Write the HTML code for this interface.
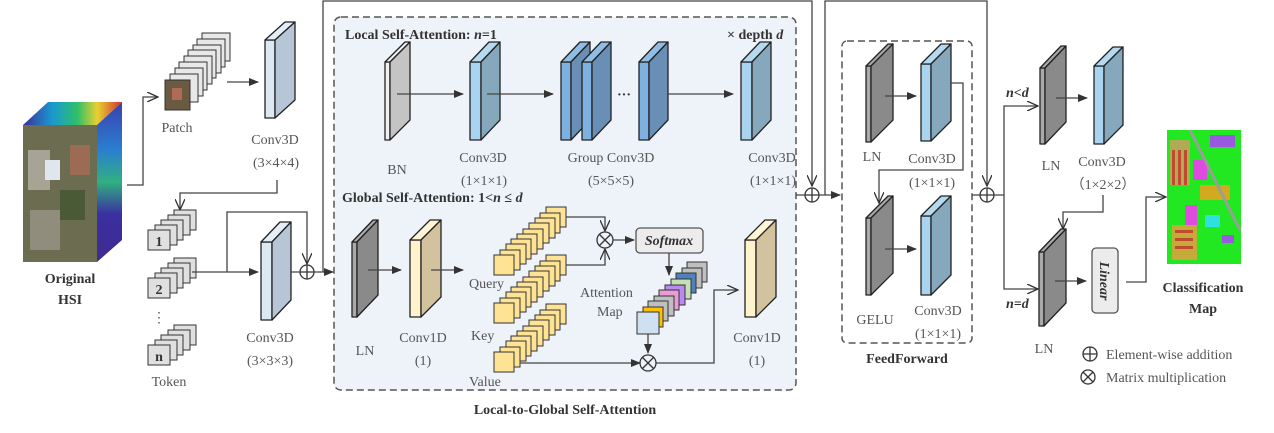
<!DOCTYPE html>
<html><head><meta charset="utf-8"><style>
html,body{margin:0;padding:0;background:#fff}
svg{display:block}
text{font-family:"Liberation Serif",serif;fill:#555;font-size:14px}
.b{font-weight:bold;fill:#333}
.ln{stroke:#444;stroke-width:1.3;fill:none}
.sl{stroke:#222;stroke-width:1.3;stroke-linejoin:round}
</style></head><body>
<svg width="1274" height="433" viewBox="0 0 1274 433" xmlns="http://www.w3.org/2000/svg">
<defs>
<marker id="a" markerWidth="10" markerHeight="8" refX="9" refY="4" orient="auto" markerUnits="userSpaceOnUse"><path d="M0,0 L10,4 L0,8 Z" fill="#333"/></marker>
<marker id="o" markerWidth="12" markerHeight="10" refX="11" refY="5" orient="auto" markerUnits="userSpaceOnUse"><path d="M0,0 L11,5 L0,10" fill="none" stroke="#333" stroke-width="1.3"/></marker>
<linearGradient id="hsiTop" x1="0" x2="1"><stop offset="0" stop-color="#3b2f9a"/><stop offset=".3" stop-color="#1a9ad0"/><stop offset=".55" stop-color="#2fbf6a"/><stop offset=".75" stop-color="#e8d030"/><stop offset="1" stop-color="#d03030"/></linearGradient>
<linearGradient id="hsiSide" x1="0" y1="0" x2="0" y2="1"><stop offset="0" stop-color="#3a40b0"/><stop offset=".3" stop-color="#2a7fd0"/><stop offset=".5" stop-color="#30b080"/><stop offset=".7" stop-color="#3a30a0"/><stop offset="1" stop-color="#402a90"/></linearGradient>
<g id="qs">
<rect x="546" y="207" width="20" height="20"/><rect x="540" y="213" width="20" height="20"/><rect x="535" y="218" width="20" height="20"/><rect x="529" y="223" width="20" height="20"/><rect x="523" y="229" width="20" height="20"/><rect x="517" y="234" width="20" height="20"/><rect x="511" y="239" width="20" height="20"/><rect x="506" y="244" width="20" height="20"/><rect x="500" y="250" width="20" height="20"/><rect x="494" y="255" width="20" height="20"/>
</g>
<g id="tk">
<rect x="174" y="210" width="22" height="20"/><rect x="168" y="215" width="22" height="20"/><rect x="161" y="220" width="22" height="20"/><rect x="155" y="225" width="22" height="20"/><rect x="148" y="230" width="22" height="20"/>
</g>
</defs>

<!-- Original HSI -->
<polygon points="23,125 48,102 122,102 97,125" fill="url(#hsiTop)"/>
<polygon points="97,125 122,102 122,240 97,262" fill="url(#hsiSide)"/>
<rect x="23" y="125" width="74" height="137" fill="#7a7058"/>
<rect x="23" y="125" width="74" height="137" fill="#5d6a48" opacity=".5"/>
<rect x="28" y="150" width="22" height="40" fill="#b8b2a6" opacity=".8"/>
<rect x="45" y="160" width="15" height="20" fill="#dfe6ee"/>
<rect x="70" y="145" width="20" height="30" fill="#a86a55" opacity=".8"/>
<rect x="30" y="210" width="30" height="40" fill="#9a9588" opacity=".8"/>
<rect x="60" y="190" width="25" height="30" fill="#4b5a36"/>
<text x="70" y="283" class="b" text-anchor="middle" font-size="15">Original</text>
<text x="70" y="304" class="b" text-anchor="middle" font-size="15">HSI</text>

<path class="ln" d="M127,185 H143 V97 H158" marker-end="url(#o)"/>
<!-- Patch stack -->
<g fill="#e8e8e8" stroke="#333" stroke-width="1">
<rect x="202" y="33" width="28" height="28"/><rect x="197" y="39" width="28" height="28"/><rect x="193" y="45" width="28" height="28"/><rect x="188" y="50" width="28" height="28"/><rect x="184" y="56" width="28" height="28"/><rect x="179" y="62" width="28" height="28"/><rect x="175" y="68" width="28" height="28"/><rect x="170" y="74" width="28" height="28"/>
</g>
<rect x="165" y="80" width="25" height="30" fill="#6a5a40" stroke="#333"/>
<rect x="172" y="88" width="10" height="12" fill="#b06a55"/>
<text x="177" y="132" text-anchor="middle">Patch</text>
<path class="ln" d="M227,82 H258" marker-end="url(#a)"/>

<!-- Conv3D 3x4x4 -->
<g class="sl"><rect x="265" y="40" width="10" height="78" fill="#dce8f2"/><polygon points="265,40 285,22 295,22 275,40" fill="#e4eef8"/><polygon points="275,40 295,22 295,100 275,118" fill="#b7c6d6"/></g>
<text x="275" y="144" text-anchor="middle">Conv3D</text>
<text x="276" y="167" text-anchor="middle">(3×4×4)</text>
<path class="ln" d="M277,180 V193 H180 V210" marker-end="url(#o)"/>

<!-- Tokens -->
<g fill="#e0e0e0" stroke="#333" stroke-width="1">
<use href="#tk"/><use href="#tk" y="48"/><use href="#tk" y="115"/>
</g>
<text x="159" y="246" text-anchor="middle" class="b" font-size="12">1</text>
<text x="159" y="294" text-anchor="middle" class="b" font-size="12">2</text>
<text x="159" y="361" text-anchor="middle" class="b" font-size="12">n</text>
<text x="159" y="322" text-anchor="middle" font-size="12">⋮</text>
<text x="169" y="386" text-anchor="middle">Token</text>

<path class="ln" d="M192,272 H258" marker-end="url(#a)"/>
<path class="ln" d="M227,272 V212 H307 V264" marker-end="url(#o)"/>
<g class="sl"><rect x="261" y="242" width="11" height="78" fill="#dce8f2"/><polygon points="261,242 280,222 291,222 272,242" fill="#e4eef8"/><polygon points="272,242 291,222 291,300 272,320" fill="#b7c6d6"/></g>
<text x="270" y="342" text-anchor="middle">Conv3D</text>
<text x="270" y="365" text-anchor="middle">(3×3×3)</text>
<circle cx="307" cy="272" r="7" fill="none" stroke="#333" stroke-width="1.3"/>
<path d="M300,272 H314 M307,265 V279" stroke="#333" stroke-width="1.3"/>
<path class="ln" d="M291,272 H300 M314,272 H333" marker-end="url(#a)"/>
<path class="ln" d="M323,272 V1 H812 V186" marker-end="url(#o)"/>

<!-- Main dashed box -->
<rect x="334" y="17" width="462" height="373" rx="7" fill="#eef2f9" stroke="#555" stroke-width="1.5" stroke-dasharray="7,4"/>
<text x="345" y="39" class="b">Local Self-Attention: <tspan font-style="italic">n</tspan>=1</text>
<text x="727" y="39" class="b">× depth <tspan font-style="italic">d</tspan></text>

<g class="sl"><rect x="385" y="62" width="5" height="78" fill="#f0f0f0"/><polygon points="385,62 405,42 410,42 390,62" fill="#f0f0f0"/><polygon points="390,62 410,42 410,120 390,140" fill="#c4c4c4"/></g>
<path class="ln" d="M397,94 H463" marker-end="url(#a)"/>
<g class="sl"><rect x="470" y="62" width="11" height="78" fill="#a9d3ee"/><polygon points="470,62 489,42 500,42 481,62" fill="#b5daf0"/><polygon points="481,62 500,42 500,120 481,140" fill="#86a8bc"/></g>
<path class="ln" d="M487,94 H553" marker-end="url(#a)"/>
<g class="sl"><rect x="561" y="62" width="10" height="78" fill="#7fb1e0"/><polygon points="561,62 580,42 590,42 571,62" fill="#8fbde6"/><polygon points="571,62 590,42 590,120 571,140" fill="#6a8fb6"/></g>
<g class="sl"><rect x="582" y="62" width="10" height="78" fill="#7fb1e0"/><polygon points="582,62 601,42 611,42 592,62" fill="#8fbde6"/><polygon points="592,62 611,42 611,120 592,140" fill="#6a8fb6"/></g>
<g class="sl"><rect x="639" y="62" width="10" height="78" fill="#7fb1e0"/><polygon points="639,62 658,42 668,42 649,62" fill="#8fbde6"/><polygon points="649,62 668,42 668,120 649,140" fill="#6a8fb6"/></g>
<text x="624" y="99" text-anchor="middle" class="b" font-size="16">···</text>
<path class="ln" d="M668,94 H733" marker-end="url(#a)"/>
<g class="sl"><rect x="741" y="62" width="11" height="78" fill="#a9d3ee"/><polygon points="741,62 760,42 771,42 752,62" fill="#b5daf0"/><polygon points="752,62 771,42 771,120 752,140" fill="#86a8bc"/></g>
<text x="397" y="174" text-anchor="middle">BN</text>
<text x="483" y="162" text-anchor="middle">Conv3D</text>
<text x="484" y="185" text-anchor="middle">(1×1×1)</text>
<text x="611" y="162" text-anchor="middle">Group Conv3D</text>
<text x="611" y="185" text-anchor="middle">(5×5×5)</text>
<text x="772" y="162" text-anchor="middle">Conv3D</text>
<text x="773" y="185" text-anchor="middle">(1×1×1)</text>

<text x="342" y="202" class="b">Global Self-Attention: 1&lt;<tspan font-style="italic">n</tspan> ≤ <tspan font-style="italic">d</tspan></text>

<g class="sl"><rect x="352" y="242" width="5" height="75" fill="#aaa"/><polygon points="352,242 373,220 378,220 357,242" fill="#aaa"/><polygon points="357,242 378,220 378,295 357,317" fill="#8a8a8a"/></g>
<path class="ln" d="M368,270 H401" marker-end="url(#a)"/>
<g class="sl"><rect x="410" y="240" width="11" height="77" fill="#fff2cc"/><polygon points="410,240 430,220 441,220 421,240" fill="#fff5d6"/><polygon points="421,240 441,220 441,297 421,317" fill="#d2c39e"/></g>
<path class="ln" d="M431,270 H463" marker-end="url(#a)"/>
<text x="365" y="355" text-anchor="middle">LN</text>
<text x="423" y="342" text-anchor="middle">Conv1D</text>
<text x="423" y="365" text-anchor="middle">(1)</text>

<g fill="#ffe394" stroke="#333" stroke-width="1">
<use href="#qs"/><use href="#qs" y="48"/><use href="#qs" y="97"/>
</g>
<text x="469" y="288">Query</text>
<text x="471" y="340">Key</text>
<text x="469" y="386">Value</text>

<path class="ln" d="M566,217 H605 V231" marker-end="url(#o)"/>
<path class="ln" d="M566,265 H605 V249" marker-end="url(#o)"/>
<circle cx="605" cy="240" r="8" fill="none" stroke="#333" stroke-width="1.3"/>
<path d="M599.5,234.5 L610.5,245.5 M610.5,234.5 L599.5,245.5" stroke="#333" stroke-width="1.3"/>
<path class="ln" d="M613,240 H634" marker-end="url(#a)"/>
<rect x="636" y="228" width="67" height="25" rx="4" fill="#ececec" stroke="#555" stroke-width="1.3"/>
<text x="669" y="245" text-anchor="middle" class="b" font-style="italic" font-size="13">Softmax</text>
<path class="ln" d="M669,253 V275" marker-end="url(#a)"/>

<g stroke="#333" stroke-width="1">
<rect x="687" y="262" width="20" height="20" fill="#bfbfbf"/>
<rect x="682" y="268" width="20" height="20" fill="#bfbfbf"/>
<rect x="676" y="273" width="20" height="20" fill="#4f81bd"/>
<rect x="671" y="279" width="20" height="20" fill="#c5e0b4"/>
<rect x="665" y="285" width="20" height="20" fill="#b98af0"/>
<rect x="659" y="290" width="20" height="20" fill="#e99cd6"/>
<rect x="654" y="296" width="20" height="20" fill="#bfbfbf"/>
<rect x="648" y="301" width="20" height="20" fill="#bfbfbf"/>
<rect x="643" y="307" width="20" height="20" fill="#ffc000"/>
<rect x="637" y="312" width="22" height="22" fill="#cfe0f0"/>
</g>
<text x="580" y="297">Attention</text>
<text x="597" y="316">Map</text>
<path class="ln" d="M648,334 V353" marker-end="url(#a)"/>
<path class="ln" d="M520,363 H640" marker-end="url(#a)"/>
<circle cx="648" cy="363" r="8" fill="none" stroke="#333" stroke-width="1.3"/>
<path d="M642.5,357.5 L653.5,368.5 M653.5,357.5 L642.5,368.5" stroke="#333" stroke-width="1.3"/>
<path class="ln" d="M656,363 H714 V290 H738" marker-end="url(#o)"/>
<g class="sl"><rect x="745" y="240" width="11" height="77" fill="#fff2cc"/><polygon points="745,240 765,220 776,220 756,240" fill="#fff5d6"/><polygon points="756,240 776,220 776,297 756,317" fill="#d2c39e"/></g>
<text x="757" y="342" text-anchor="middle">Conv1D</text>
<text x="757" y="365" text-anchor="middle">(1)</text>
<text x="565" y="414" text-anchor="middle" class="b">Local-to-Global  Self-Attention</text>

<!-- plus 1 -->
<circle cx="812" cy="195" r="7" fill="none" stroke="#333" stroke-width="1.3"/>
<path d="M805,195 H819 M812,188 V202" stroke="#333" stroke-width="1.3"/>
<path class="ln" d="M796,195 H805 M819,195 H840" marker-end="url(#a)"/>
<path class="ln" d="M825,195 V1 H987 V186" marker-end="url(#o)"/>

<!-- FeedForward -->
<rect x="842" y="41" width="130" height="302" rx="5" fill="none" stroke="#555" stroke-width="1.5" stroke-dasharray="7,4"/>
<g class="sl"><rect x="866" y="66" width="5" height="76" fill="#aaa"/><polygon points="866,66 888,44 893,44 871,66" fill="#aaa"/><polygon points="871,66 893,44 893,120 871,142" fill="#8a8a8a"/></g>
<path class="ln" d="M885,96 H916" marker-end="url(#a)"/>
<g class="sl"><rect x="921" y="64" width="10" height="77" fill="#a9d3ee"/><polygon points="921,64 941,44 951,44 931,64" fill="#b5daf0"/><polygon points="931,64 951,44 951,121 931,141" fill="#86a8bc"/></g>
<path class="ln" d="M951,83 H963 V170 H879 V203" marker-end="url(#o)"/>
<text x="872" y="161" text-anchor="middle">LN</text>
<text x="932" y="163" text-anchor="middle">Conv3D</text>
<text x="932" y="187" text-anchor="middle">(1×1×1)</text>
<g class="sl"><rect x="866" y="218" width="5" height="77" fill="#aaa"/><polygon points="866,218 888,196 893,196 871,218" fill="#aaa"/><polygon points="871,218 893,196 893,273 871,295" fill="#8a8a8a"/></g>
<path class="ln" d="M885,249 H916" marker-end="url(#a)"/>
<g class="sl"><rect x="921" y="216" width="10" height="79" fill="#a9d3ee"/><polygon points="921,216 941,196 951,196 931,216" fill="#b5daf0"/><polygon points="931,216 951,196 951,275 931,295" fill="#86a8bc"/></g>
<text x="875" y="324" text-anchor="middle">GELU</text>
<text x="938" y="315" text-anchor="middle">Conv3D</text>
<text x="938" y="338" text-anchor="middle">(1×1×1)</text>
<text x="907" y="363" text-anchor="middle" class="b" font-size="15">FeedForward</text>

<!-- plus 2 -->
<circle cx="987" cy="195" r="7" fill="none" stroke="#333" stroke-width="1.3"/>
<path d="M980,195 H994 M987,188 V202" stroke="#333" stroke-width="1.3"/>
<path class="ln" d="M972,195 H980 M994,195 H1004"/>
<path class="ln" d="M1004,195 V106 H1038" marker-end="url(#o)"/>
<path class="ln" d="M1004,195 V289 H1038" marker-end="url(#o)"/>
<text x="1006" y="97" class="b" font-style="italic" font-size="13">n&lt;d</text>
<text x="1006" y="308" class="b" font-style="italic" font-size="13">n=d</text>

<g class="sl"><rect x="1040" y="68" width="5" height="76" fill="#aaa"/><polygon points="1040,68 1061,46 1066,46 1045,68" fill="#aaa"/><polygon points="1045,68 1066,46 1066,122 1045,144" fill="#8a8a8a"/></g>
<path class="ln" d="M1056,98 H1087" marker-end="url(#a)"/>
<g class="sl"><rect x="1094" y="66" width="10" height="78" fill="#a9d3ee"/><polygon points="1094,66 1113,47 1123,47 1104,66" fill="#b5daf0"/><polygon points="1104,66 1123,47 1123,125 1104,144" fill="#86a8bc"/></g>
<text x="1051" y="170" text-anchor="middle">LN</text>
<text x="1102" y="166" text-anchor="middle">Conv3D</text>
<text x="1103" y="189" text-anchor="middle">（1×2×2）</text>
<path class="ln" d="M1103,195 V212 H1063 V229" marker-end="url(#o)"/>
<g class="sl"><rect x="1039" y="252" width="5" height="74" fill="#aaa"/><polygon points="1039,252 1061,229 1066,229 1044,252" fill="#aaa"/><polygon points="1044,252 1066,229 1066,303 1044,326" fill="#8a8a8a"/></g>
<path class="ln" d="M1055,281 H1086" marker-end="url(#a)"/>
<text x="1044" y="353" text-anchor="middle">LN</text>
<rect x="1092" y="248" width="26" height="65" rx="4" fill="#ececec" stroke="#555" stroke-width="1.3"/>
<text transform="translate(1100,281) rotate(90)" text-anchor="middle" class="b" font-style="italic" font-size="12">Linear</text>
<path class="ln" d="M1126,282 H1146 V197 H1166" marker-end="url(#o)"/>

<!-- Classification map -->
<rect x="1167" y="130" width="74" height="134" fill="#22e822"/>
<g opacity=".85">
<rect x="1170" y="140" width="20" height="45" fill="#c8a060"/>
<rect x="1172" y="150" width="3" height="35" fill="#e03030"/><rect x="1178" y="150" width="3" height="35" fill="#e03030"/><rect x="1184" y="150" width="3" height="35" fill="#e03030"/>
<rect x="1193" y="160" width="14" height="20" fill="#ff30ff"/>
<rect x="1210" y="135" width="25" height="12" fill="#b040ff"/>
<rect x="1200" y="185" width="30" height="15" fill="#f0a020"/>
<rect x="1185" y="205" width="12" height="20" fill="#ff30ff"/>
<rect x="1205" y="215" width="15" height="12" fill="#30e0ff"/>
<rect x="1172" y="225" width="25" height="35" fill="#e0a040"/>
<rect x="1175" y="230" width="18" height="3" fill="#e03030"/><rect x="1175" y="238" width="18" height="3" fill="#e03030"/><rect x="1175" y="246" width="18" height="3" fill="#e03030"/>
<path d="M1190,130 L1240,230" stroke="#b090b0" stroke-width="3"/>
<rect x="1222" y="235" width="12" height="8" fill="#b040ff"/>
</g>
<text x="1203" y="292" text-anchor="middle" class="b" font-size="15">Classification</text>
<text x="1203" y="313" text-anchor="middle" class="b" font-size="15">Map</text>

<!-- Legend -->
<circle cx="1090" cy="354" r="7" fill="none" stroke="#333" stroke-width="1.3"/>
<path d="M1083,354 H1097 M1090,347 V361" stroke="#333" stroke-width="1.3"/>
<text x="1106" y="359" font-size="13">Element-wise addition</text>
<circle cx="1088" cy="377" r="7" fill="none" stroke="#333" stroke-width="1.3"/>
<path d="M1083,372 L1093,382 M1093,372 L1083,382" stroke="#333" stroke-width="1.3"/>
<text x="1106" y="382" font-size="13">Matrix multiplication</text>
</svg>
</body></html>
